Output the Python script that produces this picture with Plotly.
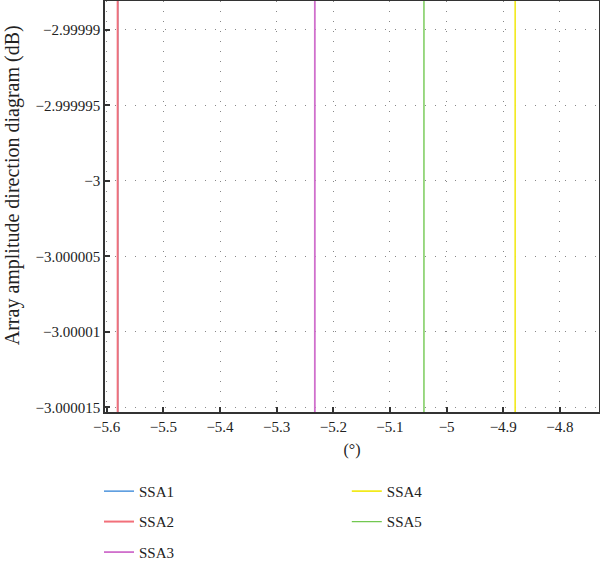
import plotly.graph_objects as go

series = ["SSA1", "SSA2", "SSA3", "SSA4", "SSA5"]
x_pos = [-5.5806, -5.5806, -5.2326, -4.879, -5.040]
colors = ["#2b7fd6", "#f2707a", "#d070cc", "#f2ea1c", "#72c850"]
widths = [1.4, 2.0, 1.8, 1.6, 1.4]
legend_ids = ["legend", "legend", "legend", "legend2", "legend2"]
y_span = [-3.00002, -2.99998]

x_ticks = [-5.6, -5.5, -5.4, -5.3, -5.2, -5.1, -5.0, -4.9, -4.8]
x_ticktext = ["−5.6", "−5.5", "−5.4", "−5.3", "−5.2", "−5.1", "−5", "−4.9", "−4.8"]
y_ticks = [-2.99999, -2.999995, -3.0, -3.000005, -3.00001, -3.000015]
y_ticktext = ["−2.99999", "−2.999995", "−3", "−3.000005", "−3.00001", "−3.000015"]

fig = go.Figure()
for name, xv, c, w, lg in zip(series, x_pos, colors, widths, legend_ids):
    fig.add_trace(go.Scatter(x=[xv, xv], y=y_span, mode="lines", name=name,
                             line=dict(color=c, width=w), legend=lg, legendgroup=name))

font_family = "Liberation Serif"
axis_common = dict(showline=True, linecolor="#333333", linewidth=1.5, mirror=True,
                   ticks="inside", ticklen=5, tickcolor="#333333", tickwidth=1.5,
                   showgrid=True, gridcolor="#888888", gridwidth=1, griddash="1px,9px",
                   zeroline=False, automargin=False,
                   tickfont=dict(family=font_family, size=15, color="#222222"))

legend_common = dict(orientation="v", xref="container", yref="container",
                     yanchor="top", y=0.1596,
                     xanchor="left", traceorder="grouped", tracegroupgap=8,
                     bgcolor="rgba(0,0,0,0)",
                     font=dict(family=font_family, size=15, color="#222222"))

fig.update_layout(
    width=600, height=565,
    paper_bgcolor="white", plot_bgcolor="white",
    margin=dict(l=105, r=1, t=1, b=153, autoexpand=False),
    font=dict(family=font_family, size=15, color="#222222"),
    xaxis=dict(range=[-5.603, -4.731], tickvals=x_ticks, ticktext=x_ticktext,
               title=dict(text="(°)", font=dict(family=font_family, size=16), standoff=10),
               **axis_common),
    yaxis=dict(range=[-3.0000153, -2.9999881], tickvals=y_ticks, ticktext=y_ticktext,
               **axis_common),
    legend=dict(x=0.165, **legend_common),
    legend2=dict(x=0.578, **legend_common),
    annotations=[dict(text="Array amplitude direction diagram (dB)", textangle=-90,
                      xref="paper", yref="paper", x=-0.188, y=0.552,
                      xanchor="center", yanchor="middle", showarrow=False,
                      font=dict(family=font_family, size=20, color="#222222"))],
    showlegend=True,
)

fig.write_html("out.html", config={"displayModeBar": False},
               post_script="document.body.style.margin='0';document.body.style.overflow='hidden';")
